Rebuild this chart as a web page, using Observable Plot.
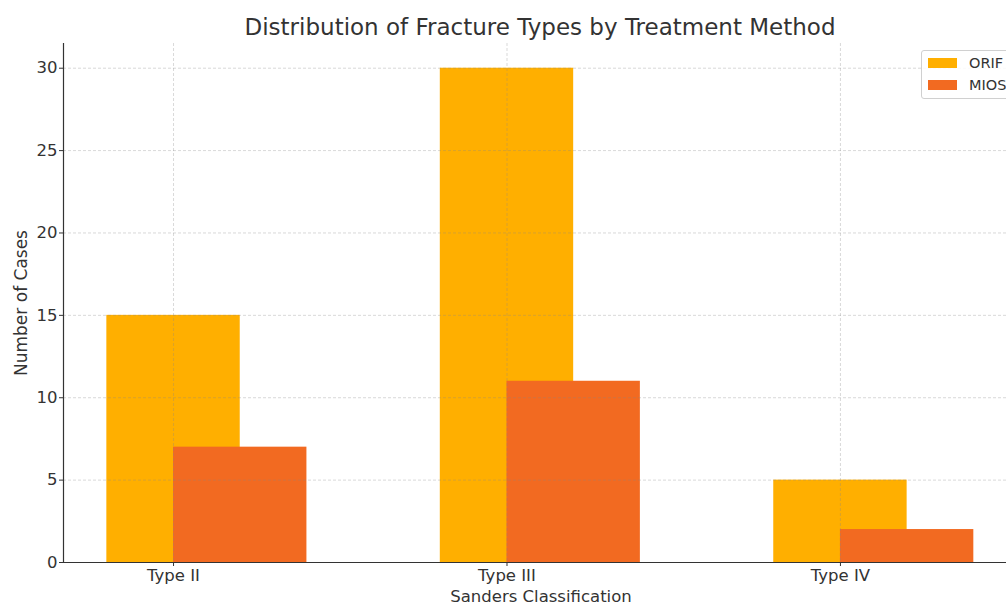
<!DOCTYPE html>
<html>
<head>
<meta charset="utf-8">
<script src="https://cdn.jsdelivr.net/npm/d3@7"></script>
<script src="https://cdn.jsdelivr.net/npm/@observablehq/plot@0.6"></script>
<style>
  html, body { margin: 0; padding: 0; background: white; }
  #wrap { position: relative; width: 1006px; height: 606px; overflow: hidden; font-family: "DejaVu Sans", sans-serif; }
  #title { position: absolute; top: 12px; left: 540px; transform: translateX(-50%); white-space: nowrap; font-size: 23px; color: #333; line-height: 30px; }
  #chart { position: absolute; top: 43px; left: 0; }
  #legend { position: absolute; left: 921px; top: 50px; width: 110px; height: 47px; border: 1px solid #d0d0d0; border-radius: 3px; background: rgba(255,255,255,0.85); font-size: 14.5px; color: #333; }
  .item { position: absolute; left: 6px; display: flex; align-items: center; }
  .sw { width: 29px; height: 10px; margin-right: 12px; }
</style>
</head>
<body>
<div id="wrap">
  <div id="title">Distribution of Fracture Types by Treatment Method</div>
  <div id="chart"></div>
  <div id="legend"></div>
</div>
<script>
const categories = ["Type II", "Type III", "Type IV"];
const orif = [15, 30, 5];
const mios = [7, 11, 2];
const seriesNames = ["ORIF", "MIOS"];
const seriesColors = ["#FFAF00", "#F26A21"];
const yTicks = [0, 5, 10, 15, 20, 25, 30];

const orifRows = categories.map((c, i) => ({cat: c, i, value: orif[i]}));
const miosRows = categories.map((c, i) => ({cat: c, i, value: mios[i]}));

const xDomain = [-0.33, 2.498];
const barW = 0.4;

const chart = Plot.plot({
  width: 1006,
  height: 563,
  marginLeft: 63,
  marginRight: 0,
  marginTop: 0,
  marginBottom: 44,
  x: {domain: xDomain},
  y: {domain: [0, 31.5]},
  style: {fontFamily: "DejaVu Sans, sans-serif", fontSize: "16.5px", color: "#333", background: "transparent", overflow: "visible"},
  marks: [
    Plot.rectY(orifRows, {x1: d => d.i - barW / 2, x2: d => d.i + barW / 2, y: "value", fill: seriesColors[0]}),
    Plot.rectY(miosRows, {x1: d => d.i, x2: d => d.i + barW, y: "value", fill: seriesColors[1]}),
    Plot.gridX(categories.map((c, i) => i), {stroke: "#888", strokeOpacity: 0.4, strokeDasharray: "3,2", strokeWidth: 0.8}),
    Plot.gridY(yTicks, {stroke: "#888", strokeOpacity: 0.4, strokeDasharray: "3,2", strokeWidth: 0.8}),
    Plot.axisX(categories.map((c, i) => i), {tickFormat: i => categories[i], tickSize: 4, tickPadding: 3, label: null, fontSize: 16.5, stroke: "#333"}),
    Plot.axisY(yTicks, {tickSize: 4, tickPadding: 2, label: null, fontSize: 16.5, stroke: "#333"}),
    Plot.ruleY([0], {stroke: "#333", strokeWidth: 1.2}),
    Plot.ruleX([xDomain[0]], {stroke: "#333", strokeWidth: 1.2}),
    Plot.text(["Sanders Classification"], {frameAnchor: "bottom", dx: 6, dy: 34, lineAnchor: "middle", text: d => d, fontSize: 16.5, fill: "#333"}),
    Plot.text(["Number of Cases"], {frameAnchor: "left", dx: -42, rotate: -90, textAnchor: "middle", lineAnchor: "middle", text: d => d, fontSize: 17, fill: "#333"})
  ]
});
document.getElementById("chart").appendChild(chart);

const legend = document.getElementById("legend");
seriesNames.forEach((name, k) => {
  const item = document.createElement("div");
  item.className = "item";
  item.style.top = (4 + k * 22) + "px";
  const sw = document.createElement("div");
  sw.className = "sw";
  sw.style.background = seriesColors[k];
  const label = document.createElement("span");
  label.textContent = name;
  item.appendChild(sw);
  item.appendChild(label);
  legend.appendChild(item);
});
</script>
</body>
</html>
